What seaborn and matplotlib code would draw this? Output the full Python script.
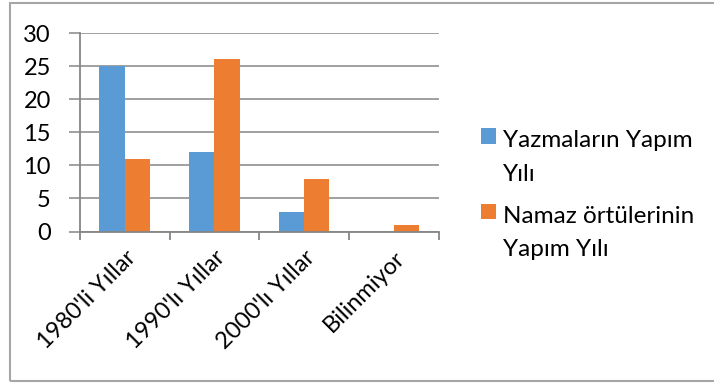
import seaborn as sns
import matplotlib.pyplot as plt
import pandas as pd
from matplotlib.patches import Rectangle
from matplotlib.legend_handler import HandlerPatch

sns.set_theme(style='white')
plt.rcParams['font.family'] = ['Lato', 'DejaVu Sans']
plt.rcParams['text.color'] = 'black'

kategoriler = ["1980'li Yıllar", "1990'lı Yıllar", "2000'lı Yıllar", "Bilinmiyor"]
yazmalar = [25, 12, 3, 0]
ortuler = [11, 26, 8, 1]
seriler = ['Yazmaların Yapım\nYılı', 'Namaz örtülerinin\nYapım Yılı']
renkler = ['#5B9BD5', '#ED7D31']

df = pd.DataFrame({
    'kategori': kategoriler * 2,
    'deger': yazmalar + ortuler,
    'seri': [seriler[0]] * 4 + [seriler[1]] * 4,
})

W, H = 714, 383
fig = plt.figure(figsize=(W / 100, H / 100), dpi=100)
ax = fig.add_axes([80 / W, 1 - 231.5 / H, (438.5 - 80) / W, (231.5 - 33) / H])

sns.barplot(data=df, x='kategori', y='deger', hue='seri', palette=renkler,
            width=0.567, gap=0, saturation=1, linewidth=0, ax=ax)

ax.set_ylim(0, 30)
ax.set_xlim(-0.5, 3.5)
ax.set_yticks(range(0, 31, 5))
ax.yaxis.grid(True, color='#868686', linewidth=1.1)
ax.set_axisbelow(True)
ax.set_xlabel('')
ax.set_ylabel('')

for s in ['top', 'right']:
    ax.spines[s].set_visible(False)
for s in ['left', 'bottom']:
    ax.spines[s].set_color('#868686')
    ax.spines[s].set_linewidth(1.3)

ax.tick_params(axis='y', length=8, width=1.1, color='#868686', labelsize=17,
               labelcolor='black', left=True, pad=13)
ax.set_xticks([-0.5, 0.5, 1.5, 2.5, 3.5], minor=True)
ax.tick_params(axis='x', which='minor', length=6, width=1.3, color='#868686',
               bottom=True)
ax.tick_params(axis='x', which='major', length=0, labelsize=17,
               labelcolor='black', pad=11)
plt.setp(ax.get_xticklabels(), rotation=45, ha='right', rotation_mode='anchor')


# legend square sits next to the first text line, like in Excel
class KareHandler(HandlerPatch):
    def create_artists(self, legend, orig_handle, xdescent, ydescent,
                       width, height, fontsize, trans):
        k = fontsize * 0.62
        p = Rectangle((-xdescent, -ydescent + height - k * 0.55), k, k,
                      facecolor=orig_handle.get_facecolor(), linewidth=0,
                      transform=trans)
        return [p]


handles, labels = ax.get_legend_handles_labels()
leg = ax.legend(handles, labels, loc='center left',
                bbox_to_anchor=(481 / W, 0.49), bbox_transform=fig.transFigure,
                frameon=False, fontsize=17.5, handlelength=0.62,
                handleheight=2.6, handletextpad=0.3, labelspacing=0.85,
                borderaxespad=0, borderpad=0,
                handler_map={h: KareHandler() for h in handles})
for t in leg.get_texts():
    t.set_linespacing(1.75)

fig.patches.append(Rectangle((10 / W, 2 / H), 1.2, 1 - 5 / H,
                             transform=fig.transFigure, fill=False,
                             edgecolor='#A6A6A6', linewidth=1.5))

fig.savefig('out.png', dpi=100)
